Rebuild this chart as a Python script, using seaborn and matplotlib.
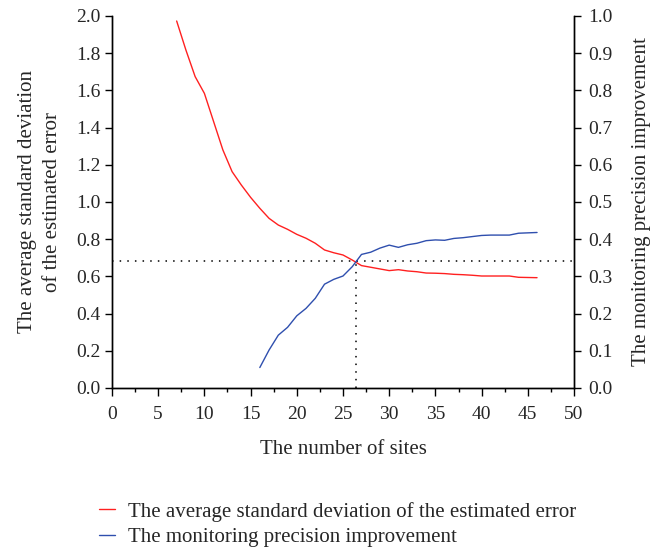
import numpy as np
import pandas as pd
import matplotlib
matplotlib.use("Agg")
import matplotlib.pyplot as plt
import seaborn as sns
from matplotlib.ticker import MultipleLocator, FormatStrFormatter

# ---- data ----
sites_red = [7, 8, 9, 10, 11, 12, 13, 14, 15, 16, 17, 18, 19, 20, 21, 22, 23, 24, 25, 26,
             27, 28, 29, 30, 31, 32, 33, 34, 35, 36, 37, 38, 39, 40, 41, 42, 43, 44, 45, 46]
avg_std = [1.973, 1.817, 1.674, 1.584, 1.432, 1.280, 1.163, 1.091, 1.025, 0.966, 0.912, 0.876,
           0.853, 0.826, 0.805, 0.778, 0.742, 0.727, 0.715, 0.688, 0.658, 0.649, 0.640, 0.631,
           0.636, 0.629, 0.625, 0.618, 0.617, 0.615, 0.611, 0.609, 0.606, 0.602, 0.602, 0.602,
           0.602, 0.595, 0.594, 0.593]
sites_blue = [16, 17, 18, 19, 20, 21, 22, 23, 24, 25, 26, 27, 28, 29, 30, 31, 32, 33, 34, 35,
              36, 37, 38, 39, 40, 41, 42, 43, 44, 45, 46]
precision = [0.055, 0.102, 0.142, 0.163, 0.194, 0.214, 0.241, 0.279, 0.292, 0.301, 0.326, 0.359,
             0.365, 0.376, 0.384, 0.378, 0.385, 0.389, 0.396, 0.398, 0.397, 0.402, 0.404, 0.407,
             0.410, 0.411, 0.411, 0.411, 0.416, 0.417, 0.418]
cross_x = 26.4
cross_y = 0.68

red_label = "The average standard deviation of the estimated error"
blue_label = "The monitoring precision improvement"
xlabel = "The number of sites"
ylabel_left = "The average standard deviation\nof the estimated error"
ylabel_right = "The monitoring precision improvement"

sns.set_theme(style="ticks")
plt.rcParams['font.family'] = ['Liberation Serif', 'DejaVu Serif']

RED = "#ff2020"
BLUE = "#2f4fae"
TICK_FS = 14
LABEL_FS = 15

fig = plt.figure(figsize=(6.61, 5.49), dpi=100)
ax = fig.add_axes([0.1694, 0.2933, 0.6990, 0.6776])
ax2 = ax.twinx()

df_r = pd.DataFrame({"x": sites_red, "y": avg_std})
df_b = pd.DataFrame({"x": sites_blue, "y": precision})
sns.lineplot(data=df_r, x="x", y="y", ax=ax, color=RED, lw=1.0, label=red_label, legend=False)
sns.lineplot(data=df_b, x="x", y="y", ax=ax2, color=BLUE, lw=1.0, label=blue_label, legend=False)

ax.set_xlim(0, 50)
ax.set_ylim(0, 2.0)
ax2.set_ylim(0, 1.0)

dot = (0, (1, 4))
ax.axhline(cross_y, color="black", lw=1.1, ls=dot)
ax.vlines(cross_x, 0, cross_y, color="black", lw=1.1, ls=dot)

ax.xaxis.set_major_locator(MultipleLocator(5))
ax.xaxis.set_minor_locator(MultipleLocator(2.5))
ax.yaxis.set_major_locator(MultipleLocator(0.2))
ax2.yaxis.set_major_locator(MultipleLocator(0.1))
ax.yaxis.set_major_formatter(FormatStrFormatter("%.1f"))
ax2.yaxis.set_major_formatter(FormatStrFormatter("%.1f"))

for a in (ax, ax2):
    a.spines["top"].set_visible(False)
    for s in a.spines.values():
        s.set_linewidth(1.0)
        s.set_color("black")
    a.tick_params(which="major", length=5, width=1.0, color="black", labelsize=TICK_FS, pad=3)
    a.tick_params(which="minor", length=3, width=1.0, color="black")
ax.tick_params(axis="x", which="major", length=6, pad=7)
ax2.tick_params(axis="y", pad=5)

ax.set_xlabel(xlabel, fontsize=LABEL_FS, labelpad=12)
ax.set_ylabel(ylabel_left, fontsize=LABEL_FS, labelpad=10, linespacing=1.45)
ax2.set_ylabel(ylabel_right, fontsize=LABEL_FS, labelpad=14)

h1, l1 = ax.get_legend_handles_labels()
h2, l2 = ax2.get_legend_handles_labels()
fig.legend(h1 + h2, l1 + l2, loc="center left", bbox_to_anchor=(0.150, 0.045),
           bbox_transform=fig.transFigure, frameon=False, fontsize=LABEL_FS,
           handlelength=0.75, handletextpad=0.65, labelspacing=0.28,
           borderpad=0, borderaxespad=0)

fig.savefig("out.png", dpi=100)
